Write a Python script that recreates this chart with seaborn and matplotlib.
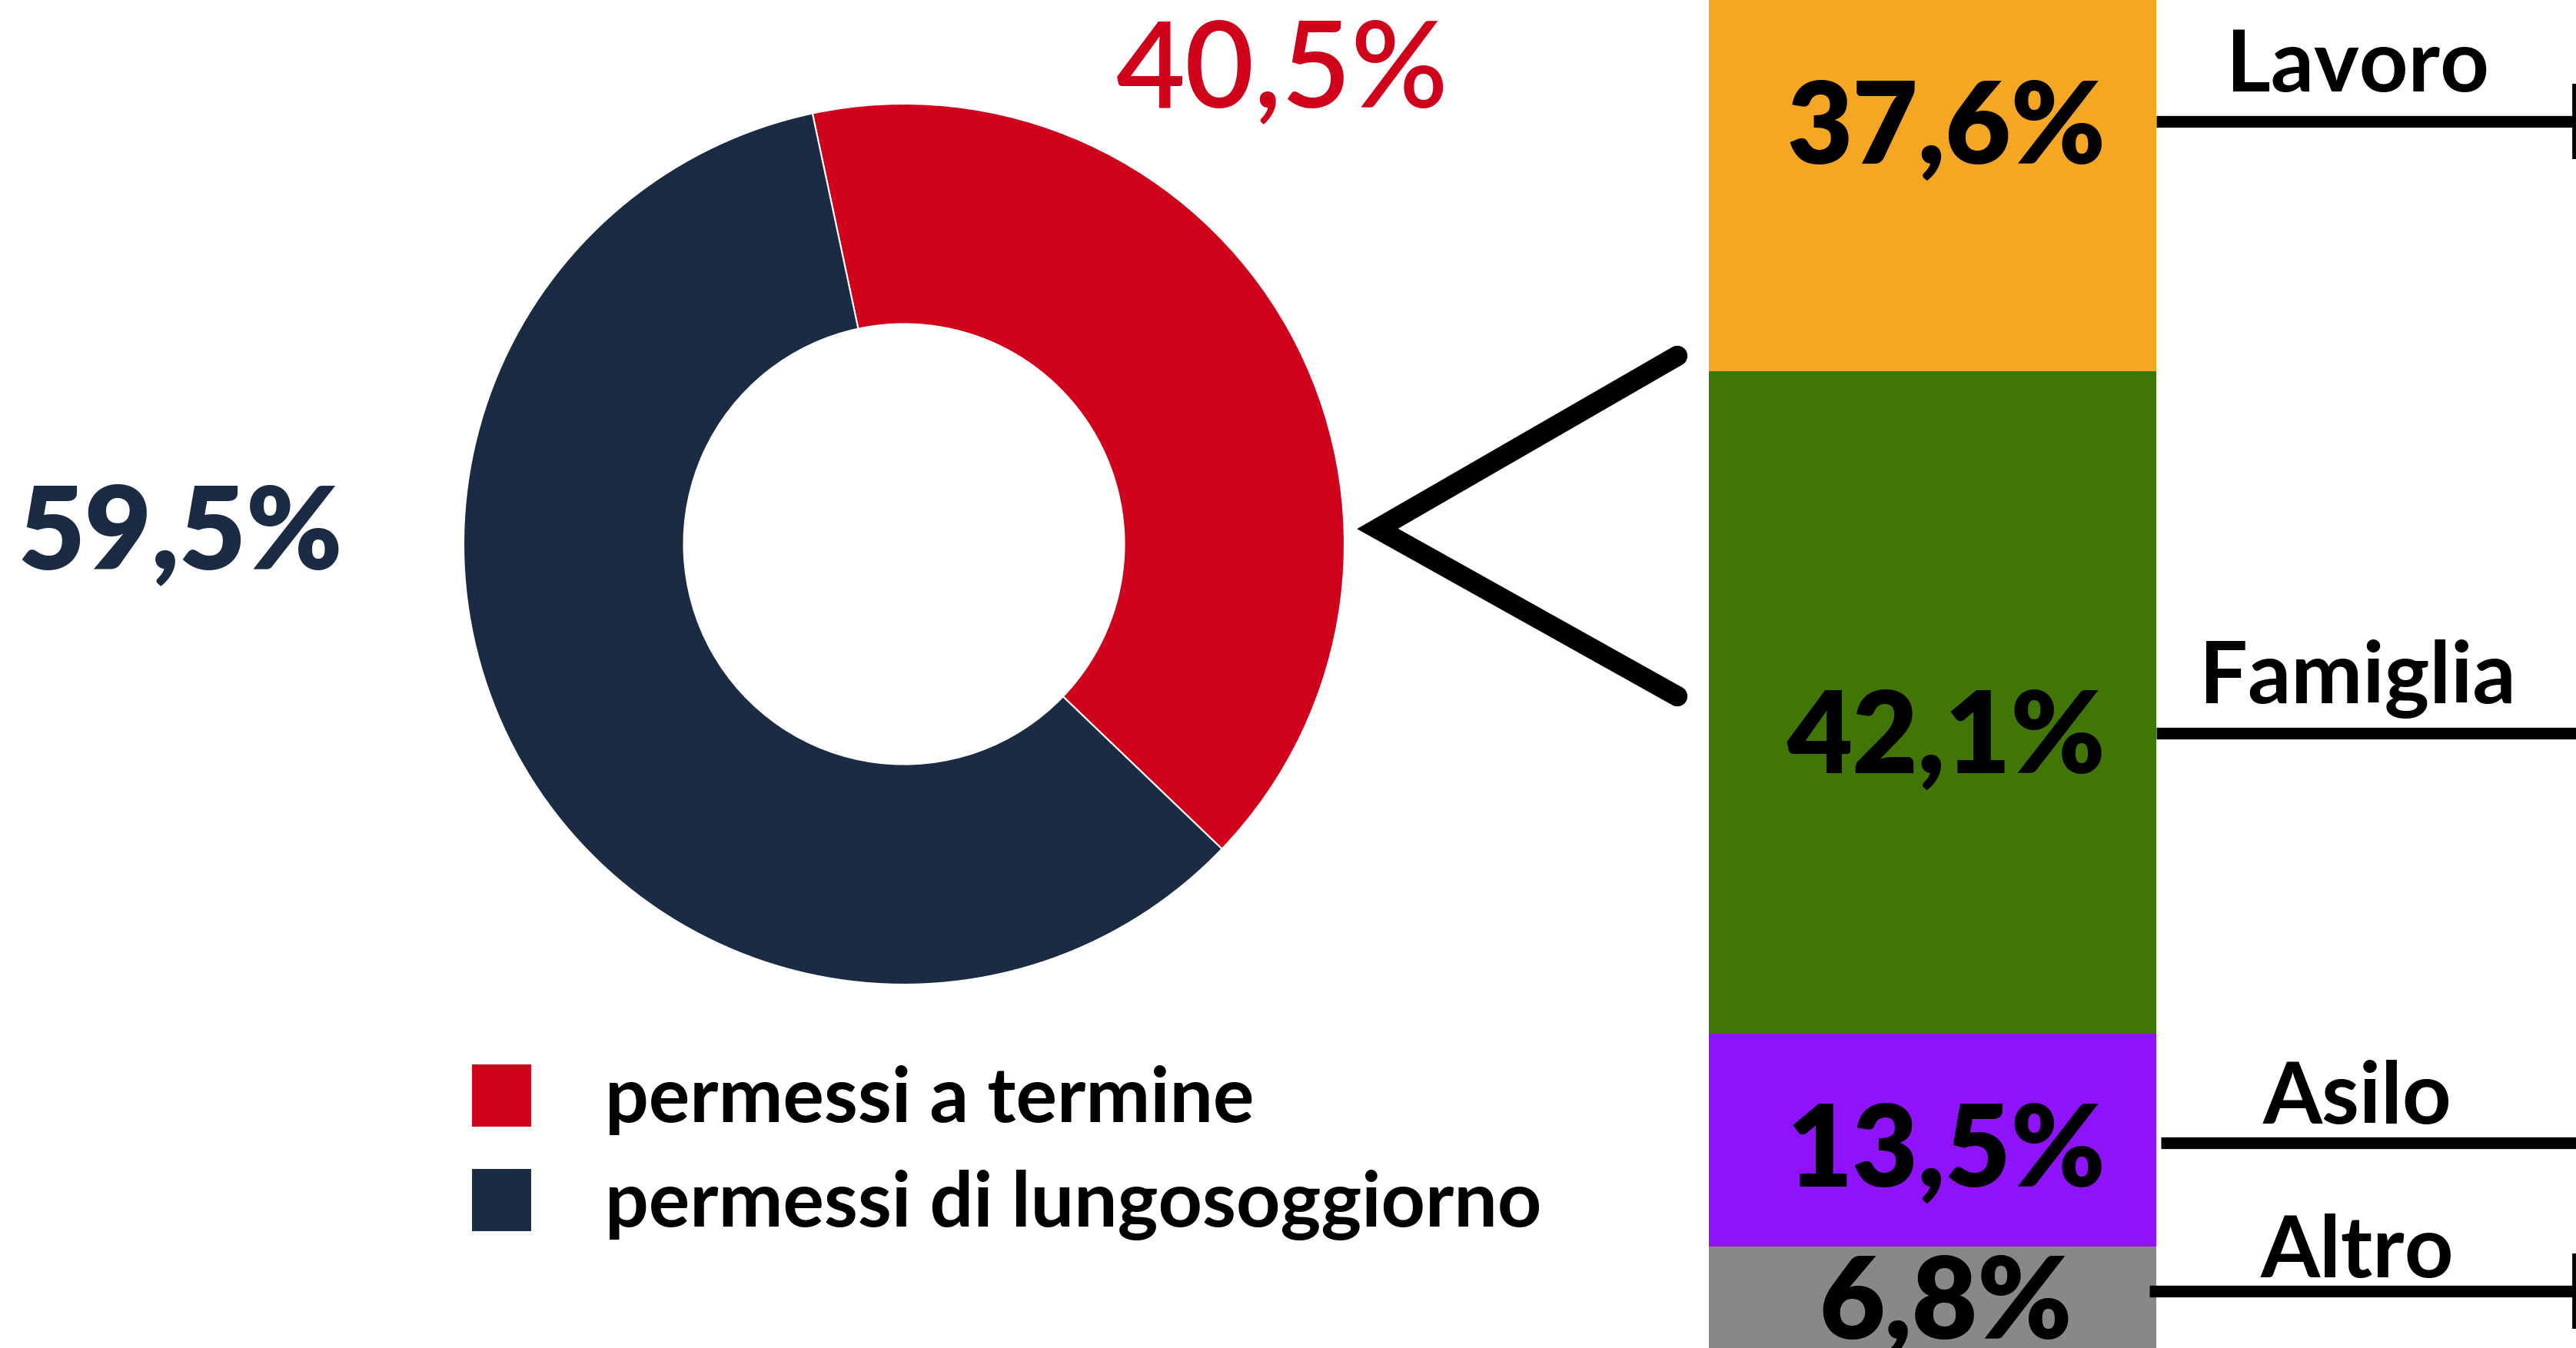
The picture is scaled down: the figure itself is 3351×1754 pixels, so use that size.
import numpy as np
import matplotlib
matplotlib.use("Agg")
import matplotlib.pyplot as plt
import seaborn as sns

# data
pie_labels = ["permessi a termine", "permessi di lungosoggiorno"]
pie_values = [40.5, 59.5]
pie_colors = ["#D0021B", "#1B2B44"]

motivi = ["Lavoro", "Famiglia", "Asilo", "Altro"]
motivi_values = [37.6, 42.1, 13.5, 6.8]
motivi_colors = ["#F5A623", "#417505", "#9013FE", "#888888"]

# where the texts and leader lines sit on the bar axis (percent units)
line_pos = [78.3, 39.4, 13.4, 3.95]
name_base = [80.2, 41.3, 14.6, 4.85]
value_base = [75.6, 36.9, 10.6, 0.95]
line_start = [0.5, 0.5, 0.51, 0.485]
line_tick = [True, False, False, True]

W, H = 3351, 1754


def fmt(v):
    return f"{v:.1f}".replace(".", ",") + "%"


sns.set_theme(style="white")
plt.rcParams["font.family"] = ["Lato", "DejaVu Sans"]
plt.rcParams["text.color"] = "black"

fig = plt.figure(figsize=(W / 100, H / 100), dpi=100)

# overlay for the chevron connector
ax_over = fig.add_axes([0, 0, 1, 1])
ax_over.set_xlim(0, W)
ax_over.set_ylim(H, 0)
ax_over.axis("off")
ax_over.plot([2182, 1792, 2182], [463, 688, 906], color="black", lw=19,
             solid_joinstyle="miter", solid_capstyle="round")

# donut
cx, cy, R = 1176, 708, 573
ax_pie = fig.add_axes([(cx - R) / W, (H - cy - R) / H, 2 * R / W, 2 * R / H])
wedges, _ = ax_pie.pie(
    pie_values,
    colors=pie_colors,
    startangle=102,
    counterclock=False,
    radius=1,
    wedgeprops=dict(width=0.5, edgecolor="white", linewidth=1.5),
)
ax_pie.set_xlim(-1, 1)
ax_pie.set_ylim(-1, 1)
ax_pie.set_aspect("equal")
ax_pie.axis("off")

ax_pie.text(0.859, 0.993, fmt(pie_values[0]), color=pie_colors[0],
            fontsize=112, fontweight="semibold", ha="center", va="baseline")
ax_pie.text(-1.643, -0.056, fmt(pie_values[1]), color=pie_colors[1],
            fontsize=108, fontweight="heavy", ha="center", va="baseline")

fig.legend(
    handles=wedges,
    labels=pie_labels,
    loc="upper left",
    bbox_to_anchor=(613 / W, 1 - 1384 / H),
    frameon=False,
    prop=dict(family="Lato", weight="bold", size=72),
    labelcolor="black",
    handlelength=0.79,
    handleheight=0.9,
    handletextpad=0.95,
    labelspacing=0.43,
    borderpad=0,
    borderaxespad=0,
)

# stacked bar of the reasons
x0 = 2223
ax_bar = fig.add_axes([x0 / W, 0, (W - x0) / W, 1])
tops = np.cumsum(motivi_values[::-1])[::-1]
for top, col in zip(tops, motivi_colors):
    sns.barplot(x=["motivi"], y=[top], color=col, width=1, saturation=1,
                linewidth=0, ax=ax_bar)

px_unit = 582
ax_bar.set_xlim(-0.5, -0.5 + (W - x0) / px_unit)
ax_bar.set_ylim(0.34, 86.0)
ax_bar.axis("off")
xmax = -0.5 + (W - x0) / px_unit

for i, name in enumerate(motivi):
    ax_bar.text(0.03, value_base[i], fmt(motivi_values[i]), color="black",
                fontsize=106, fontweight="heavy", ha="center", va="baseline")
    ax_bar.text(0.95, name_base[i], name, color="black", fontsize=80,
                fontweight="bold", ha="center", va="baseline")
    ax_bar.plot([line_start[i], xmax], [line_pos[i], line_pos[i]],
                color="black", lw=11, solid_capstyle="butt", clip_on=False)
    if line_tick[i]:
        ax_bar.plot([xmax, xmax], [line_pos[i] - 2.4, line_pos[i] + 2.4],
                    color="black", lw=7, solid_capstyle="butt", clip_on=True)

fig.savefig("out.png", dpi=100)
